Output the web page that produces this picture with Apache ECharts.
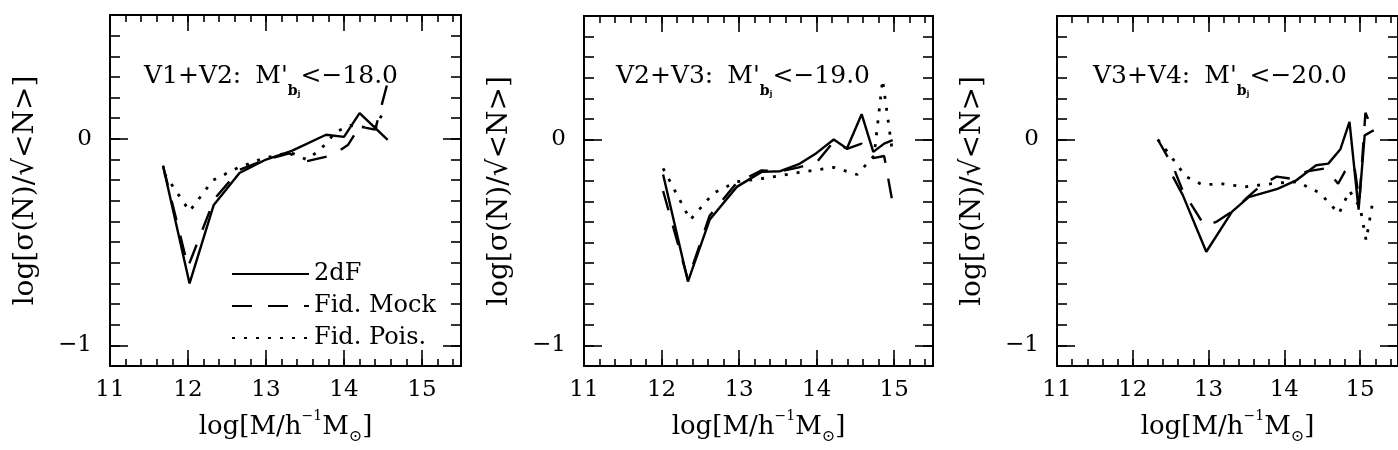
<!DOCTYPE html>
<html>
<head>
<meta charset="utf-8">
<script src="https://cdn.jsdelivr.net/npm/echarts@6/dist/echarts.min.js"></script>
<style>
  html, body { margin: 0; padding: 0; background: #fff; }
  #chart { width: 1398px; height: 450px; }
</style>
</head>
<body>
<div id="chart"></div>
<script>
// tick labels
const xMajor = [11, 12, 13, 14, 15]
const yMajor = [-1, 0]
const seriesNames = ['2dF', 'Fid. Mock', 'Fid. Pois.']
const panelLabels = ['V1+V2:', 'V2+V3:', 'V3+V4:']
const panelCuts = ['−18.0', '−19.0', '−20.0']

// V1+V2 : [log M, log sigma/sqrt<N>]
const obs1 = [[11.68, -0.13], [12.02, -0.70], [12.33, -0.32], [12.66, -0.165], [13.0, -0.10], [13.33, -0.058], [13.77, 0.02], [14.0, 0.01], [14.2, 0.125], [14.56, -0.005]]
const mock1 = [[11.68, -0.13], [12.0, -0.62], [12.34, -0.29], [12.66, -0.15], [13.0, -0.10], [13.3, -0.07], [13.5, -0.11], [13.85, -0.08], [14.05, -0.03], [14.2, 0.06], [14.4, 0.045], [14.55, 0.26]]
const pois1 = [[11.7, -0.17], [12.02, -0.35], [12.32, -0.2], [12.64, -0.14], [12.97, -0.094], [13.31, -0.065], [13.52, -0.1], [13.69, -0.055], [13.9, 0.035], [14.08, 0.065], [14.29, 0.055], [14.42, 0.06], [14.52, 0.15]]

// V2+V3
const obs2 = [[12.02, -0.17], [12.34, -0.69], [12.62, -0.39], [12.97, -0.23], [13.29, -0.157], [13.53, -0.154], [13.77, -0.12], [14.0, -0.065], [14.22, 0.0], [14.39, -0.044], [14.58, 0.123], [14.73, -0.06], [14.87, -0.02], [14.98, -0.003]]
const mock2 = [[12.02, -0.25], [12.34, -0.68], [12.62, -0.37], [12.97, -0.21], [13.29, -0.15], [13.53, -0.155], [13.77, -0.135], [14.0, -0.11], [14.22, -0.01], [14.39, -0.045], [14.58, -0.02], [14.73, -0.09], [14.87, -0.08], [14.98, -0.31]]
const pois2 = [[12.02, -0.14], [12.37, -0.39], [12.67, -0.26], [12.97, -0.205], [13.29, -0.19], [13.77, -0.16], [14.22, -0.135], [14.52, -0.17], [14.74, -0.08], [14.85, 0.29], [14.98, -0.07]]

// V3+V4
const obs3 = [[12.53, -0.18], [12.66, -0.27], [12.97, -0.545], [13.31, -0.35], [13.53, -0.28], [13.91, -0.24], [14.15, -0.2], [14.42, -0.125], [14.58, -0.117], [14.74, -0.047], [14.86, 0.086], [14.98, -0.34], [15.06, 0.02], [15.18, 0.045]]
const mock3 = [[12.33, 0.0], [12.53, -0.13], [12.66, -0.25], [12.95, -0.42], [13.1, -0.40], [13.35, -0.34], [13.5, -0.285], [13.7, -0.22], [13.9, -0.18], [14.09, -0.19], [14.3, -0.155], [14.54, -0.14], [14.71, -0.215], [14.8, -0.155], [14.92, -0.12], [14.99, -0.3], [15.07, 0.13], [15.17, 0.045]]
const pois3 = [[12.33, 0.0], [12.48, -0.07], [12.7, -0.18], [12.92, -0.22], [13.18, -0.215], [13.48, -0.23], [13.7, -0.22], [13.95, -0.21], [14.17, -0.205], [14.47, -0.26], [14.72, -0.36], [14.86, -0.25], [15.0, -0.33], [15.08, -0.49], [15.17, -0.295]]

const panels = [[obs1, mock1, pois1], [obs2, mock2, pois2], [obs3, mock3, pois3]]

const font = 'DejaVu Serif'
const grids = [
  { left: 110, top: 15, width: 351, height: 352 },
  { left: 584, top: 16, width: 349, height: 351 },
  { left: 1057, top: 16, width: 349, height: 351 }
]

const lineStyles = [
  { type: 'solid', width: 2.4 },
  { type: [20, 16], width: 2.4 },
  { type: [3, 9], width: 2.8 }
]

const xAxes = []
const yAxes = []
const series = []
const titles = []

const tickStyle = { color: '#000', width: 1.6 }
const noLine = { show: false, onZero: false }

// 生成一条坐标轴（只画刻度）
function tickAxis(p, pos, isX, len, extra) {
  const base = {
    type: 'value', gridIndex: p, position: pos,
    min: isX ? 11 : -1.1, max: isX ? 15.5 : 0.6,
    axisLine: noLine,
    axisTick: { show: true, inside: true, length: len, lineStyle: tickStyle },
    axisLabel: { show: false },
    splitLine: { show: false }
  }
  return Object.assign(base, extra || {})
}

grids.forEach(function(g, p) {
  // 底部主刻度 + 标签
  xAxes.push(tickAxis(p, 'bottom', true, 16, {
    axisTick: { show: true, inside: true, length: 16, customValues: xMajor, lineStyle: tickStyle },
    axisLabel: { customValues: xMajor, margin: 13, color: '#000', fontFamily: font, fontSize: 23 },
    name: '{a|log[M/h}{sup|−1}{a|M}{sub|⊙}{a|]}',
    nameLocation: 'middle',
    nameGap: 43,
    nameTextStyle: {
      rich: {
        a: { fontFamily: font, fontSize: 26, color: '#000', lineHeight: 36, verticalAlign: 'middle' },
        sup: { fontFamily: font, fontSize: 14, color: '#000', lineHeight: 36, verticalAlign: 'top' },
        sub: { fontFamily: font, fontSize: 16, color: '#000', lineHeight: 36, verticalAlign: 'bottom' }
      }
    }
  }))
  xAxes.push(tickAxis(p, 'bottom', true, 7, { interval: 0.2 }))
  xAxes.push(tickAxis(p, 'top', true, 16, {
    axisTick: { show: true, inside: true, length: 16, customValues: xMajor, lineStyle: tickStyle }
  }))
  xAxes.push(tickAxis(p, 'top', true, 7, { interval: 0.2 }))

  // 左侧主刻度 + 标签
  yAxes.push(tickAxis(p, 'left', false, 18, {
    axisTick: { show: true, inside: true, length: 18, customValues: yMajor, lineStyle: tickStyle },
    axisLabel: {
      customValues: yMajor, margin: 18, color: '#000', fontFamily: font, fontSize: 23,
      formatter: function(v) { return v < 0 ? '−' + Math.abs(v) : String(v) }
    },
    name: 'log[σ(N)/√<N>]',
    nameLocation: 'middle',
    nameGap: 70,
    nameTextStyle: { fontFamily: font, fontSize: 28, color: '#000' }
  }))
  yAxes.push(tickAxis(p, 'left', false, 10, { interval: 0.1 }))
  yAxes.push(tickAxis(p, 'right', false, 18, {
    axisTick: { show: true, inside: true, length: 18, customValues: yMajor, lineStyle: tickStyle }
  }))
  yAxes.push(tickAxis(p, 'right', false, 10, { interval: 0.1 }))

  panels[p].forEach(function(d, k) {
    series.push({
      name: seriesNames[k],
      type: 'line',
      xAxisIndex: p * 4,
      yAxisIndex: p * 4,
      data: d,
      symbol: 'none',
      lineStyle: Object.assign({ color: '#000' }, lineStyles[k]),
      itemStyle: { color: '#000' },
      emphasis: { disabled: true },
      z: 3 - k
    })
  })

  titles.push({
    text: '{a|' + panelLabels[p] + '}{gap|}{a|M\'}{b|b}{j|j}{a|<' + panelCuts[p] + '}',
    left: g.left + [29, 27, 31][p],
    top: 49,
    textStyle: {
      rich: {
        a: { fontFamily: font, fontSize: 25, fontWeight: 'normal', color: '#000', lineHeight: 44, verticalAlign: 'middle' },
        gap: { width: 14, lineHeight: 44 },
        b: { fontFamily: font, fontSize: 14, fontWeight: 'bold', color: '#000', lineHeight: 44, verticalAlign: 'bottom' },
        j: { fontFamily: font, fontSize: 8, fontWeight: 'bold', color: '#000', lineHeight: 44, verticalAlign: 'bottom' }
      }
    }
  })
})

const chart = echarts.init(document.getElementById('chart'), null, { renderer: 'canvas' })
chart.setOption({
  backgroundColor: '#fff',
  animation: false,
  title: titles,
  grid: grids.map(function(g) {
    return Object.assign({ show: true, borderColor: '#000', borderWidth: 2, backgroundColor: 'transparent' }, g)
  }),
  xAxis: xAxes,
  yAxis: yAxes,
  legend: {
    data: seriesNames,
    orient: 'vertical',
    left: 226,
    top: 257,
    itemWidth: 77,
    itemHeight: 20,
    itemGap: 8,
    selectedMode: false,
    itemStyle: { opacity: 0 },
    textStyle: { fontFamily: font, fontSize: 24, color: '#000', lineHeight: 21 }
  },
  series: series
})
</script>
</body>
</html>
